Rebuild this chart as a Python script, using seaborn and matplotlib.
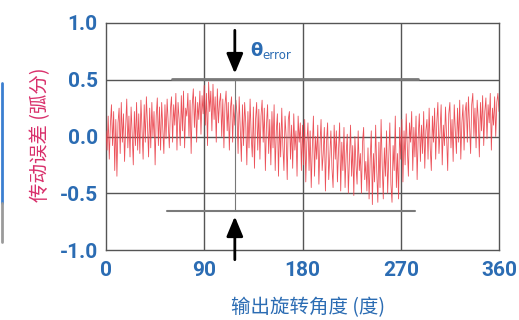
import numpy as np
import matplotlib
matplotlib.use("Agg")
import matplotlib.pyplot as plt
from matplotlib.lines import Line2D
import seaborn as sns

# transmission error (arc-min, x100), one sample per degree
err_raw = [
    5, -12, 18, -20, 10, 28, -8, 22, -30, 15, -35, 12, 25, -15, 30, -5, 20, -22, 8, 33, -10, 18, -18, 26, 2, -25, 22, -8, 30, -12,
    20, -15, 32, 5, -20, 28, -5, 35, 10, -18, 25, -10, 30, 0, 22, -25, 18, 34, -8, 26, -12, 30, 8, -15, 28, -2, 33, 12, -10, 24,
    35, -5, 28, 10, 38, -12, 30, 15, -8, 36, 5, 40, -10, 25, 18, 38, 0, 32, -15, 28, 42, 8, 35, -5, 30, 15, 40, 2, 36, 20,
    45, 10, 38, -8, 48, 22, 40, 5, 46, 15, 35, -5, 42, 12, 30, 38, 0, 33, -10, 28, 40, 5, 30, -12, 25, 35, -5, 28, 10, 32,
    20, -15, 35, 5, -22, 28, -8, 30, 12, -25, 22, -10, 33, 0, -18, 26, -28, 15, 30, -12, 24, -20, 18, 32, -5, 25, -30, 10, 28, -15,
    15, -25, 22, -10, 28, -30, 5, 20, -35, 12, -18, 25, -8, -30, 18, 0, -38, 15, 22, -20, 10, -28, 20, -12, 5, -35, 18, -5, 12, -30,
    10, -25, 15, -40, -5, 12, -30, 5, -45, -10, 18, -35, 0, -20, 10, -42, -8, 15, -30, -15, 8, -48, -5, 12, -38, -18, 5, -28, -45, 10,
    -20, 5, -40, -12, 12, -48, -5, -30, 8, -45, -15, 2, -50, -20, 10, -35, -8, -52, 0, -25, -42, 5, -30, -15, -50, -5, 8, -38, -22, -48,
    -10, -55, -20, 5, -60, -15, -40, 10, -30, -58, -5, -45, 15, -25, -55, -10, -35, 5, -50, -20, 12, -42, -58, -8, -30, 18, -45, -15, -55, 8,
    -20, 15, -40, 5, -25, 20, -10, -35, 12, -5, 22, -30, 8, -18, 18, -38, 0, 20, -22, 10, -15, 22, -28, 5, 15, -20, 25, -10, -30, 18,
    -5, 25, -20, 12, 30, -15, 5, 28, -25, 10, -8, 26, 0, -30, 20, 30, -10, 15, -22, 28, 5, -15, 25, -5, 32, -20, 12, 28, -12, 22,
    30, -5, 35, 10, -15, 28, 38, 0, 25, -10, 32, 15, -18, 30, 5, 36, -8, 22, 34, -2, 28, 12, 38, -12, 25, 10, 35, 0, 30, 38,
    22,
]
err = np.array(err_raw) / 100.0
angle = np.arange(len(err))

x_ticks = [0, 90, 180, 270, 360]
y_ticks = [-1.0, -0.5, 0.0, 0.5, 1.0]
y_tick_labels = ["-1.0", "-0.5", "0.0", "0.5", "1.0"]

# peak-to-peak band markers
band_top = 0.51
band_bottom = -0.66
band_top_span = [60, 286]
band_bottom_span = [56, 283]
arrow_x = 118

blue = "#2b6cb3"
pink = "#d9306b"
grid_col = "#555555"

sns.set_style("white")
plt.rcParams["font.family"] = ["Noto Sans CJK SC", "DejaVu Sans"]

fig = plt.figure(figsize=(5.19, 3.2), dpi=100)
ax = fig.add_axes([106 / 519, 1 - 250 / 320, 393 / 519, 227 / 320])

sns.lineplot(x=angle, y=err, ax=ax, color="#ea3f48", lw=0.6, alpha=0.9, zorder=3)

ax.set_xlim(0, 360)
ax.set_ylim(-1, 1)
ax.set_xticks(x_ticks)
ax.set_yticks(y_ticks)
ax.set_yticklabels(y_tick_labels)
for v in x_ticks[1:-1]:
    ax.axvline(v, color=grid_col, lw=1, zorder=2)
for v in y_ticks[1:-1]:
    ax.axhline(v, color=grid_col, lw=1, zorder=2)
for s in ax.spines.values():
    s.set_color(grid_col)
    s.set_linewidth(1)

ax.tick_params(length=0, colors=blue, labelsize=15)
ax.tick_params(axis="y", pad=6)
ax.tick_params(axis="x", pad=8)
for lab in ax.get_xticklabels() + ax.get_yticklabels():
    lab.set_fontfamily("Roboto")
    lab.set_fontweight("bold")

ax.set_xlabel("")
ax.set_ylabel("")

# band lines
ax.plot(band_top_span, [band_top, band_top], color="#7a7a7a", lw=2, zorder=4)
ax.plot(band_bottom_span, [band_bottom, band_bottom], color="#7a7a7a", lw=1.5, zorder=4)
ax.plot([arrow_x, arrow_x], [band_top, band_bottom], color="#777777", lw=0.8, zorder=4)

ax.annotate("", xy=(arrow_x, band_top + 0.02), xytext=(arrow_x, 0.96),
            arrowprops=dict(arrowstyle="-|>,head_length=0.6,head_width=0.25",
                            color="black", lw=2, mutation_scale=20),
            zorder=5)
ax.annotate("", xy=(arrow_x, band_bottom - 0.02), xytext=(arrow_x, -1.11),
            arrowprops=dict(arrowstyle="-|>,head_length=0.6,head_width=0.25",
                            color="black", lw=2, mutation_scale=20),
            annotation_clip=False, zorder=5)

ax.text(132, 0.75, "θ", color=blue, fontsize=13, fontweight="bold",
        fontfamily="DejaVu Sans", va="center", ha="left")
ax.text(143, 0.71, "error", color=blue, fontsize=8.5,
        fontfamily="DejaVu Sans", va="center", ha="left")

fig.text(41 / 519, 1 - 135 / 320, "传动误差 (弧分)", color=pink, fontsize=14,
         rotation=90, ha="center", va="center")
fig.text(308 / 519, 1 - 308 / 320, "输出旋转角度 (度)", color=blue, fontsize=14,
         ha="center", va="center")

# cropped edge of a neighbouring panel
fig.add_artist(Line2D([0.003, 0.003], [1 - 83 / 320, 1 - 203 / 320],
                      color="#3b7fd0", lw=2, transform=fig.transFigure))
fig.add_artist(Line2D([0.003, 0.003], [1 - 203 / 320, 1 - 242 / 320],
                      color="#9a9a9a", lw=2, transform=fig.transFigure))

fig.savefig("out.png", dpi=100)
